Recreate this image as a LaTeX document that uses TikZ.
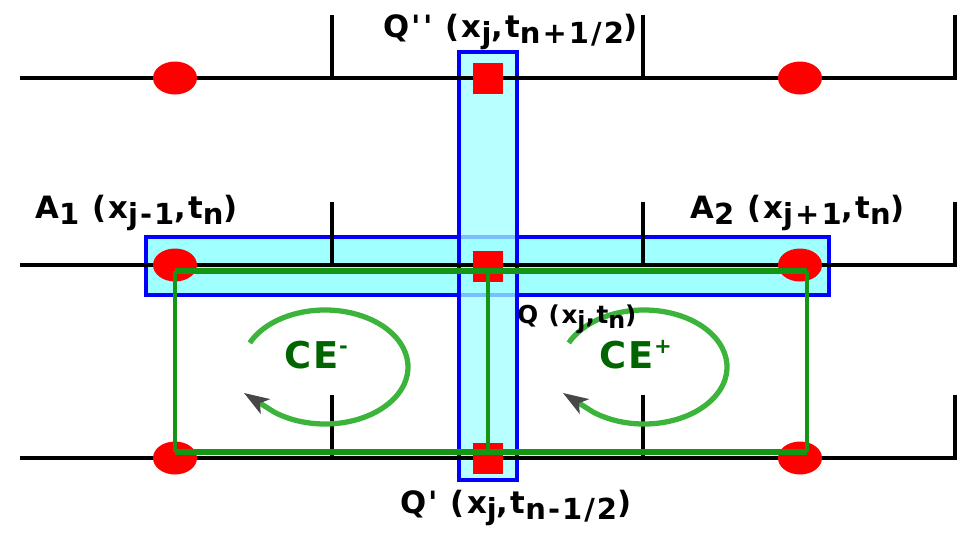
\documentclass[tikz,border=0pt]{standalone}
\usepackage{fontspec}
\setmainfont{DejaVu Sans}[Ligatures=TeXOff, LetterSpace=7]
\usetikzlibrary{arrows.meta, shapes.geometric}

\definecolor{cellfill}{RGB}{160,255,255}
\definecolor{cellline}{RGB}{0,0,255}
\definecolor{celine}{RGB}{20,150,20}
\definecolor{cearc}{RGB}{60,180,60}
\definecolor{cetext}{RGB}{0,100,0}

\newcommand{\sbs}[1]{\raisebox{-0.4ex}{\fontsize{16.5}{16.5}\selectfont #1}}
\newcommand{\sbq}[1]{\raisebox{-0.4ex}{\fontsize{13.5}{13.5}\selectfont #1}}
\newcommand{\sps}[1]{\raisebox{0.7ex}{\fontsize{12}{12}\selectfont #1}}

\begin{document}
\begin{tikzpicture}[
    x=0.02cm, y=-0.02cm,
    axis/.style={line width=2.8pt, black},
    tick/.style={line width=2.1pt, black},
    cell/.style={draw=cellline, fill=cellfill, line width=2.4pt},
    dot/.style={ellipse, fill=red, minimum width=0.88cm, minimum height=0.66cm, inner sep=0pt},
    sq/.style={rectangle, fill=red, minimum width=0.6cm, minimum height=0.62cm, inner sep=0pt},
    lbl/.style={font=\fontsize{17.5}{20}\selectfont\bfseries, inner sep=0pt, anchor=base west},
    celbl/.style={font=\fontsize{21}{24}\selectfont\bfseries, text=cetext, inner sep=0pt,
                  anchor=base west},
    loop/.style={line width=3pt, cearc,
                 -{Stealth[color=black!72, length=5mm, width=3.4mm, inset=1.2mm]}},
  ]
  \useasboundingbox (0,0) rectangle (961,532);

  % --- conservation cells ---
  \draw[cell] (146,237) rectangle (829,295);
  \draw[cell, fill opacity=0.75] (459,52) rectangle (517,480);

  % --- time levels ---
  \foreach \y in {78, 265, 458} {
    \draw[axis] (20,\y) -- (955,\y) -- (955,\y-63);
    \draw[tick] (332,\y) -- (332,\y-63);
    \draw[tick] (643,\y) -- (643,\y-63);
  }

  % --- grid points ---
  \node[dot] (T1) at (175,78) {};
  \node[dot] (T2) at (800,78) {};
  \node[dot] (A1) at (175,265) {};
  \node[dot] (A2) at (800,265) {};
  \node[dot] (B1) at (175,458) {};
  \node[dot] (B2) at (800,458) {};
  \node[sq] (Qpp) at (488,78) {};
  \node[sq] (Q) at (488,266) {};
  \node[sq] (Qp) at (488,458) {};

  % --- solution elements ---
  \draw[celine, line width=2pt] (175,271) -- (175,452) (807,271) -- (807,452);
  \draw[celine, line width=2.4pt] (488,271) -- (488,452);
  \draw[celine, line width=3.4pt] (175,271) -- (807,271) (175,452) -- (807,452);

  \draw[loop] (325,367) ++(-155:83 and 57) arc[start angle=-155, end angle=128,
    x radius=83, y radius=57] -- ++(-30,-19);
  \draw[loop] (644,367) ++(-155:83 and 57) arc[start angle=-155, end angle=128,
    x radius=83, y radius=57] -- ++(-30,-19);

  \node[celbl] (cem) at (284,368) {CE\sps{-}};
  \node[celbl] (cep) at (599,368) {CE\sps{+}};

  % --- labels ---
  \node[lbl] (lQpp) at (383,37) {Q'' (x\sbs{j},t\sbs{n+1/2})};
  \node[lbl] (lA1) at (35,218) {A\sbs{1} (x\sbs{j-1},t\sbs{n})};
  \node[lbl] (lA2) at (690,218) {A\sbs{2} (x\sbs{j+1},t\sbs{n})};
  \node[lbl, font=\fontsize{14}{16}\selectfont\bfseries] (lQ) at (517,323)
    {Q (x\sbq{j},t\sbq{n})};
  \node[lbl] (lQp) at (400,513) {Q' (x\sbs{j},t\sbs{n-1/2})};
\end{tikzpicture}
\end{document}
